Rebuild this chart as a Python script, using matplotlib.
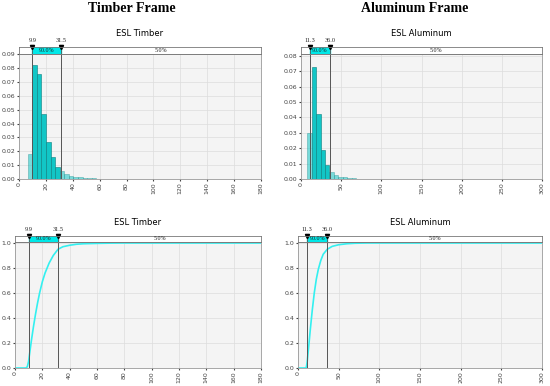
import numpy as np
import matplotlib.pyplot as plt

# histogram data (density)
timber_start = 6.5
timber_width = 3.4
timber_dens = [0.018, 0.082, 0.076, 0.047, 0.027, 0.016, 0.009, 0.0055, 0.0035,
               0.0025, 0.0018, 0.0012, 0.0009, 0.0006, 0.0004, 0.0003, 0.0002,
               0.0002, 0.0001, 0.0001]
alu_start = 7.9
alu_width = 5.5
alu_dens = [0.030, 0.073, 0.042, 0.019, 0.009, 0.0045, 0.0025, 0.0015, 0.001,
            0.0006, 0.0004, 0.0003, 0.0002, 0.0001, 0.0001]

# cumulative curves
timber_cx = [0, 8, 9.0, 9.9, 11, 12, 13.5, 15, 16.5, 18, 20, 22, 25, 28, 31.5, 35, 40, 45, 50, 60, 70, 80, 100, 180]
timber_cy = [0, 0, 0.01, 0.05, 0.14, 0.22, 0.33, 0.43, 0.52, 0.60, 0.69, 0.76, 0.84, 0.90, 0.95, 0.97, 0.982, 0.99, 0.994, 0.997, 0.999, 1.0, 1.0, 1.0]
alu_cx = [0, 10, 10.6, 11.3, 13, 15, 17.5, 20, 22.5, 25, 28, 31, 36, 42, 50, 60, 70, 85, 100, 300]
alu_cy = [0, 0, 0.02, 0.05, 0.16, 0.30, 0.46, 0.60, 0.71, 0.79, 0.86, 0.91, 0.95, 0.973, 0.986, 0.994, 0.998, 1.0, 1.0, 1.0]

timber_lo, timber_hi = 9.9, 31.5
alu_lo, alu_hi = 11.3, 36.0

bar_col = '#12c6c6'
edge_col = '#0a7f7f'
line_col = '#33f0f0'
bg = '#f4f4f4'


def style_ax(ax, xmax, xticks, ymax, yticks, yfmt):
    ax.set_facecolor(bg)
    ax.set_xlim(0, xmax)
    ax.set_ylim(0, ymax)
    ax.set_xticks(xticks)
    ax.set_yticks(yticks)
    ax.set_yticklabels([yfmt % v for v in yticks])
    ax.grid(True, color='#dcdcdc', linewidth=0.5)
    ax.set_axisbelow(True)
    ax.tick_params(axis='x', labelsize=4.5, rotation=90, length=1.5, pad=1, colors='#444444')
    ax.tick_params(axis='y', labelsize=4.5, length=1.5, pad=1, colors='#444444')
    for s in ax.spines.values():
        s.set_color('#999999')
        s.set_linewidth(0.6)


def strip(fig, rect, xmax, lo, hi):
    sa = fig.add_axes(rect)
    sa.set_xlim(0, xmax)
    sa.set_ylim(0, 1)
    sa.set_xticks([])
    sa.set_yticks([])
    sa.set_facecolor('white')
    for s in sa.spines.values():
        s.set_color('#777777')
        s.set_linewidth(0.6)
    sa.axvspan(lo, hi, color='#00e8e8', zorder=1)
    sa.axvline(lo, color='#555555', linewidth=0.6)
    sa.axvline(hi, color='#555555', linewidth=0.6)
    sa.text((lo + hi) / 2, 0.5, '90.0%', ha='center', va='center', fontsize=4.3,
            family='Liberation Serif', color='#222222')
    sa.text((hi + xmax) / 2, 0.5, '5.0%', ha='center', va='center', fontsize=4.3,
            family='Liberation Serif', color='#222222')
    for v in (lo, hi):
        sa.plot([v], [1.0], marker='v', color='black', markersize=3, clip_on=False)
        sa.text(v, 1.6, '%.1f' % v, ha='center', va='bottom', fontsize=4.5,
                family='Liberation Serif', color='#222222')
    return sa


def hist(ax, start, width, dens, lo, hi):
    edges = start + width * np.arange(len(dens))
    for x0, h in zip(edges, dens):
        inside = (x0 >= lo - 0.01) and (x0 + width <= hi + 0.01)
        ax.bar(x0, h, width=width, align='edge', color=bar_col,
               edgecolor=edge_col, linewidth=0.4, alpha=1.0 if inside else 0.55)
    ax.axvline(lo, color='#555555', linewidth=0.7)
    ax.axvline(hi, color='#555555', linewidth=0.7)


fig = plt.figure(figsize=(5.5, 3.86), dpi=100)
W, H = 550.0, 386.0


def rect(x0, x1, ytop, ybot):
    return [x0 / W, 1 - ybot / H, (x1 - x0) / W, (ybot - ytop) / H]


# top left
ax1 = fig.add_axes(rect(19, 261, 54, 179))
style_ax(ax1, 180, range(0, 181, 20), 0.0903, np.arange(0, 0.091, 0.01), '%.2f')
hist(ax1, timber_start, timber_width, timber_dens, timber_lo, timber_hi)
strip(fig, rect(19, 261, 47, 54), 180, timber_lo, timber_hi)

# top right
ax2 = fig.add_axes(rect(301, 542, 54, 179))
style_ax(ax2, 300, range(0, 301, 50), 0.0813, np.arange(0, 0.081, 0.01), '%.2f')
hist(ax2, alu_start, alu_width, alu_dens, alu_lo, alu_hi)
strip(fig, rect(301, 542, 47, 54), 300, alu_lo, alu_hi)

# bottom left
ax3 = fig.add_axes(rect(15, 261, 242, 368))
style_ax(ax3, 180, range(0, 181, 20), 1.008, np.arange(0, 1.01, 0.2), '%.1f')
ax3.plot(timber_cx, timber_cy, color=line_col, linewidth=1.2)
ax3.axvline(timber_lo, color='#555555', linewidth=0.7)
ax3.axvline(timber_hi, color='#555555', linewidth=0.7)
strip(fig, rect(15, 261, 236, 242), 180, timber_lo, timber_hi)

# bottom right
ax4 = fig.add_axes(rect(298, 542, 242, 368))
style_ax(ax4, 300, range(0, 301, 50), 1.008, np.arange(0, 1.01, 0.2), '%.1f')
ax4.plot(alu_cx, alu_cy, color=line_col, linewidth=1.2)
ax4.axvline(alu_lo, color='#555555', linewidth=0.7)
ax4.axvline(alu_hi, color='#555555', linewidth=0.7)
strip(fig, rect(298, 542, 236, 242), 300, alu_lo, alu_hi)

# titles
fig.text(132 / W, 1 - 9 / H, 'Timber Frame', ha='center', va='center',
         fontsize=10, fontweight='bold', family='Liberation Serif')
fig.text(415 / W, 1 - 9 / H, 'Aluminum Frame', ha='center', va='center',
         fontsize=10, fontweight='bold', family='Liberation Serif')
fig.text(140 / W, 1 - 33 / H, 'ESL Timber', ha='center', va='center', fontsize=6)
fig.text(421 / W, 1 - 33 / H, 'ESL Aluminum', ha='center', va='center', fontsize=6)
fig.text(138 / W, 1 - 222 / H, 'ESL Timber', ha='center', va='center', fontsize=6)
fig.text(420 / W, 1 - 222 / H, 'ESL Aluminum', ha='center', va='center', fontsize=6)

fig.savefig('out.png', dpi=100)
